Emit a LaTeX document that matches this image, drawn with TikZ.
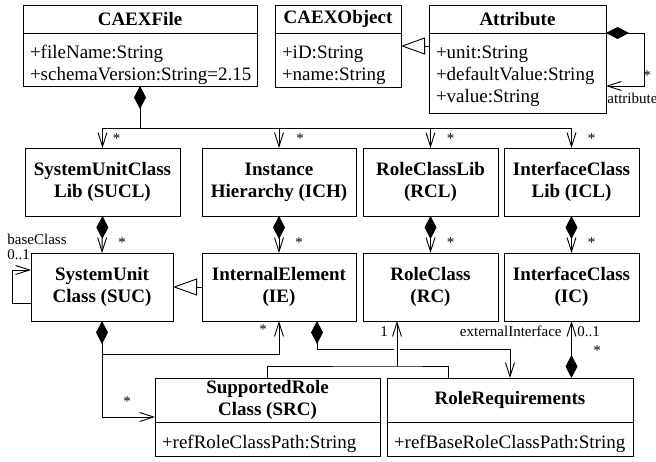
\documentclass[tikz,border=0pt]{standalone}
\usepackage{fontspec}
\setmainfont{Liberation Serif}
\usetikzlibrary{arrows.meta,calc,positioning}

\newcommand{\umlfont}{\fontsize{19}{22}\selectfont}
\newcommand{\umlsmall}{\fontsize{15}{17}\selectfont}

\tikzset{
  classhead/.style={draw, font=\umlfont\bfseries, align=center, minimum height=28pt, inner sep=0pt, outer sep=0pt, anchor=north west},
  compart/.style={draw, font=\umlfont, text width=#1, align=left, inner xsep=7pt, inner ysep=0pt, outer sep=0pt, text height=26pt, anchor=north west},
  classbox/.style={draw, font=\umlfont\bfseries, align=center, minimum height=68pt, inner sep=0pt, outer sep=0pt, anchor=north west},
  compo/.style={{Diamond[length=23pt,width=12pt]}-{Straight Barb[length=14pt,width=9pt]}},
  nav/.style={-{Straight Barb[length=14pt,width=9pt]}},
  generalize/.style={-{Triangle[open,length=24pt,width=17pt,fill=white]}},
  mult/.style={font=\umlsmall, inner sep=0pt},
}

\begin{document}
\begin{tikzpicture}[x=1pt, y=-1pt, line width=0.9pt]
    \useasboundingbox (0,0) rectangle (656,462);

    % top classes
    \node[classhead, minimum width=234pt] (file) at (23,5) {CAEXFile};
    \node[compart=220pt, text depth=27pt] (fileattr) at (file.south west) {+fileName:String\\+schemaVersion:String=2.15};
    \node[classhead, minimum width=126pt] (object) at (275,5) {CAEXObject};
    \node[compart=112pt, text depth=28pt] (objectattr) at (object.south west) {+iD:String\\+name:String};
    \node[classhead, minimum width=177pt] (attr) at (429,5) {Attribute};
    \node[compart=163pt, text depth=54pt] (attrattr) at (attr.south west) {+unit:String\\+defaultValue:String\\+value:String};

    % libraries
    \node[classbox, minimum width=155pt] (sucl) at (25,148) {SystemUnitClass\\Lib (SUCL)};
    \node[classbox, minimum width=154pt] (ich) at (202,148) {Instance\\Hierarchy (ICH)};
    \node[classbox, minimum width=135pt] (rcl) at (363,148) {RoleClassLib\\(RCL)};
    \node[classbox, minimum width=135pt] (icl) at (504,148) {InterfaceClass\\Lib (ICL)};

    % elements
    \node[classbox, minimum width=142pt] (suc) at (31,253) {SystemUnit\\Class (SUC)};
    \node[classbox, minimum width=154pt] (ie) at (202,253) {InternalElement\\(IE)};
    \node[classbox, minimum width=135pt] (rc) at (363,253) {RoleClass\\(RC)};
    \node[classbox, minimum width=135pt] (ic) at (504,253) {InterfaceClass\\(IC)};

    % bottom classes
    \node[classhead, minimum width=225pt, minimum height=44pt] (src) at (155,378) {SupportedRole\\Class (SRC)};
    \node[compart=211pt, text depth=8pt] (srcattr) at (src.south west) {+refRoleClassPath:String};
    \node[classhead, minimum width=246pt, minimum height=44pt] (rr) at (387,378) {RoleRequirements};
    \node[compart=232pt, text depth=8pt] (rrattr) at (rr.south west) {+refBaseRoleClassPath:String};

    % CAEXFile holds the libraries
    \coordinate (bus) at (0,128);
    \draw[{Diamond[length=23pt,width=12pt]}-] (fileattr.south) -- (fileattr.south |- bus);
    \foreach \lib/\dx in {sucl/14,ich/21,rcl/20,icl/20} {
        \draw[nav] (fileattr.south |- bus) -| (\lib.north);
        \node[mult] (\lib-m) at ([xshift=\dx pt, yshift=9pt]\lib.north) {*};
    }

    % libraries hold their elements
    \foreach \lib/\elem in {sucl/suc,ich/ie,rcl/rc,icl/ic} {
        \draw[compo] (\lib.south) -- (\elem.north);
        \node[mult] (\elem-m) at ([xshift=20pt, yshift=10pt]\elem.north) {*};
    }

    % Attribute
    \draw[generalize] ([yshift=-13pt]attr.south west) -- ([yshift=-13pt]object.south east);
    \draw[compo] (attr.south east) -- ++(38,0) |- ([yshift=-53pt]attr.south east);
    \node[mult] (attr-m) at (647,76) {*};
    \node[mult, anchor=base west] (attr-role) at (607,104) {attribute};

    % SystemUnitClass
    \draw[generalize] (ie.west) -- (suc.east);
    \draw[nav] ([yshift=-16pt]suc.west) -- ++(-19,0) |- ([yshift=17pt]suc.west);
    \node[mult, anchor=base west] (suc-role) at (7,245) {baseClass};
    \node[mult, anchor=base west] (suc-mult) at (7,260) {0..1};
    \draw[compo] (suc.south) |- ([yshift=5pt]src.south west);
    \node[mult] (src-m) at (127,402) {*};
    \draw[nav] ([yshift=-33pt]suc.south) -| (ie.south);
    \node[mult] (ie-m2) at (263,330) {*};

    % InternalElement holds RoleRequirements
    \draw[compo] ([xshift=38pt]ie.south) -- ++(0,28) -| (rr.north);

    % references to RoleClass
    \coordinate (rolejoin) at (397,366);
    \draw (src.north) |- (rolejoin) -| ([xshift=-62pt]rr.north);
    \draw[white, line width=6pt] ([yshift=10pt]rolejoin) -- ([yshift=24pt]rolejoin); % gap where lines cross
    \draw[nav] (rolejoin) -- (rolejoin |- rc.south);
    \node[mult] (rc-m2) at (384,332) {1};

    % RoleRequirements to InterfaceClass
    \draw[compo] (ic.south |- rr.north) -- (ic.south);
    \node[mult, anchor=base east] (ic-role) at (562,337) {externalInterface};
    \node[mult, anchor=base west] (ic-mult) at (577,337) {0..1};
    \node[mult] (rr-m) at (597,351) {*};
\end{tikzpicture}
\end{document}
